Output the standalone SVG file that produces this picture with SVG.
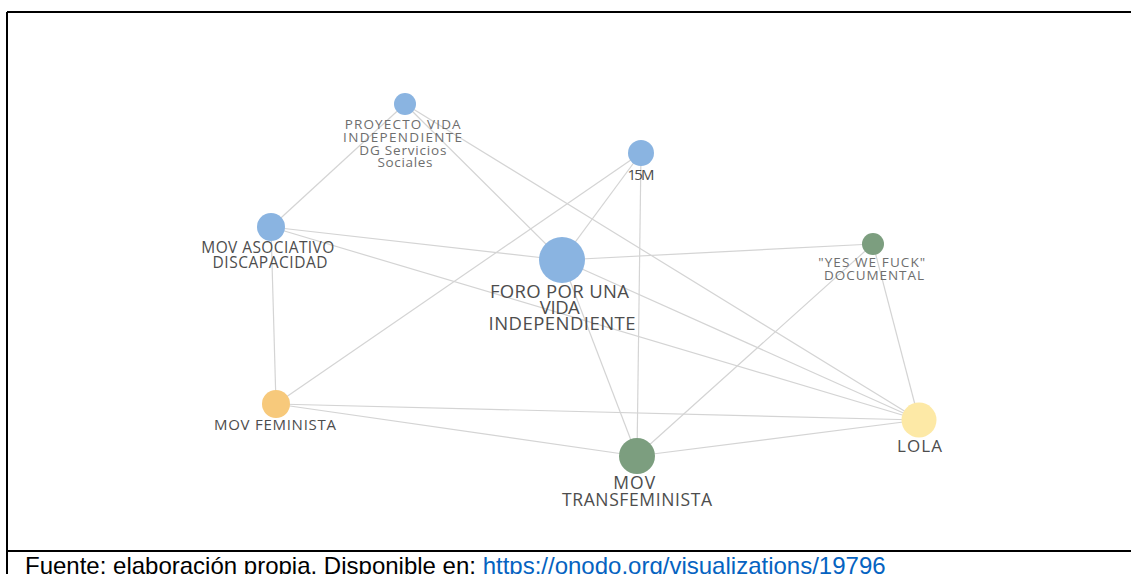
<svg xmlns="http://www.w3.org/2000/svg" width="1131" height="574" viewBox="0 0 1131 574">
<style>
.frame{stroke:#000;stroke-width:2;fill:none}
.e{stroke:#d4d4d4;stroke-width:1.2;fill:none}
.lbl{font-family:"Open Sans","DejaVu Sans",sans-serif;text-anchor:middle;fill:#4d4d4d}
.lt{fill:#6e6e6e}
.blue{fill:#8ab4e1}
.green{fill:#7c9e7f}
.cap{font-family:"Liberation Sans",Arial,sans-serif;font-size:24px;fill:#000}
.link{fill:#0563c1}
</style>
<rect width="1131" height="574" fill="#fff"/>
<g id="frame">
<line class="frame" x1="7" y1="12" x2="1131" y2="12"/>
<line class="frame" x1="7" y1="12" x2="7" y2="574"/>
<line class="frame" x1="7" y1="551" x2="1131" y2="551"/>
</g>
<g id="connectors">
<line class="e" x1="405" y1="104" x2="271" y2="227"/>
<line class="e" x1="405" y1="104" x2="562" y2="260"/>
<line class="e" x1="405" y1="104" x2="919" y2="420"/>
<line class="e" x1="271" y1="227" x2="562" y2="260"/>
<line class="e" x1="271" y1="227" x2="919" y2="420"/>
<line class="e" x1="271" y1="227" x2="276" y2="404"/>
<line class="e" x1="276" y1="404" x2="641" y2="153"/>
<line class="e" x1="562" y1="260" x2="641" y2="153"/>
<line class="e" x1="641" y1="153" x2="637" y2="456"/>
<line class="e" x1="562" y1="260" x2="873" y2="244"/>
<line class="e" x1="562" y1="260" x2="919" y2="420"/>
<line class="e" x1="562" y1="260" x2="637" y2="456"/>
<line class="e" x1="873" y1="244" x2="637" y2="456"/>
<line class="e" x1="873" y1="244" x2="919" y2="420"/>
<line class="e" x1="276" y1="404" x2="919" y2="420"/>
<line class="e" x1="276" y1="404" x2="637" y2="456"/>
<line class="e" x1="637" y1="456" x2="919" y2="420"/>
</g>
<g id="node-proyecto">
<circle class="blue" cx="405" cy="104" r="11"/>
<text class="lbl lt" font-size="13.5">
<tspan x="405" y="129" textLength="116">PROYECTO VIDA</tspan>
<tspan x="405" y="142" textLength="119">INDEPENDIENTE</tspan>
<tspan x="405" y="154.5" textLength="87">DG Servicios</tspan>
<tspan x="405" y="167" textLength="55">Sociales</tspan>
</text>
</g>
<g id="node-15m">
<circle class="blue" cx="641" cy="153" r="13"/>
<text class="lbl" font-size="15" x="641" y="180" textLength="27">15M</text>
</g>
<g id="node-mov-asociativo">
<circle class="blue" cx="271" cy="227" r="14"/>
<text class="lbl" font-size="15.5">
<tspan x="270" y="253" textLength="133">MOV ASOCIATIVO</tspan>
<tspan x="270" y="268" textLength="115">DISCAPACIDAD</tspan>
</text>
</g>
<g id="node-foro">
<circle class="blue" cx="562" cy="260" r="23"/>
<text class="lbl" font-size="18.5" fill="#444">
<tspan x="562" y="298" textLength="139">FORO POR UNA</tspan>
<tspan x="562" y="314" textLength="40">VIDA</tspan>
<tspan x="562" y="330" textLength="147">INDEPENDIENTE</tspan>
</text>
</g>
<g id="node-yes-we-fuck">
<circle class="green" cx="873" cy="244" r="11"/>
<text class="lbl lt" font-size="13.5">
<tspan x="874" y="267" textLength="107">"YES WE FUCK"</tspan>
<tspan x="874" y="280" textLength="100">DOCUMENTAL</tspan>
</text>
</g>
<g id="node-mov-feminista">
<circle fill="#f7c97b" cx="276" cy="404" r="14"/>
<text class="lbl" font-size="15" x="275" y="430" textLength="122">MOV FEMINISTA</text>
</g>
<g id="node-mov-transfeminista">
<circle class="green" cx="637" cy="456" r="18"/>
<text class="lbl" font-size="17.5">
<tspan x="637" y="489" textLength="42">MOV</tspan>
<tspan x="637" y="506" textLength="150">TRANSFEMINISTA</tspan>
</text>
</g>
<g id="node-lola">
<circle fill="#fde9a6" cx="919" cy="420" r="17.5"/>
<text class="lbl" font-size="17" x="919.5" y="452" textLength="45">LOLA</text>
</g>
<g id="caption">
<text class="cap" x="25" y="574">Fuente: elaboración propia. Disponible en: <tspan class="link">https://onodo.org/visualizations/19796</tspan></text>
</g>
</svg>
